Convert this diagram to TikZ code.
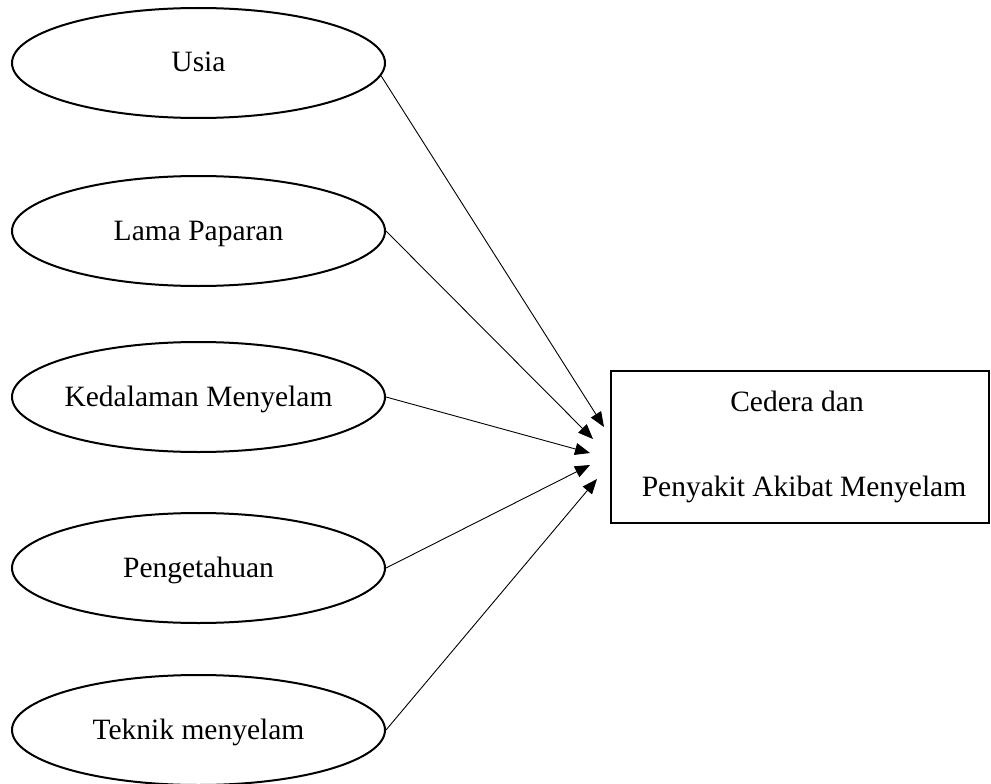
\documentclass[tikz,border=0pt]{standalone}
\usepackage{fontspec}
\setmainfont{Liberation Serif}
\usetikzlibrary{shapes.geometric,arrows.meta}
\begin{document}
\begin{tikzpicture}[x=1pt,y=-1pt,
  factor/.style={ellipse,draw,line width=2pt,minimum width=373pt,minimum height=110pt,inner xsep=-40pt,inner ysep=0pt,
    font=\fontsize{29.5}{34}\selectfont,text height=20pt,text depth=2pt},
  outbox/.style={rectangle,draw,line width=2.5pt,minimum width=378pt,minimum height=152pt,inner sep=0pt,
    align=center,font=\fontsize{29.5}{85}\selectfont},
  link/.style={line width=0.9pt,-{Triangle[length=15pt,width=12pt]}}]
\useasboundingbox (0,0) rectangle (991,784);
\node[factor] (usia) at (198.5,63) {Usia};
\node[factor] (lama) at (198.5,231) {Lama Paparan};
\node[factor] (dalam) at (198.5,397) {Kedalaman Menyelam};
\node[factor] (tahu) at (198.5,568) {Pengetahuan};
\node[factor] (teknik) at (198.5,730) {Teknik menyelam};
\node[outbox] (cedera) at (800,447) {\hspace*{-6pt}Cedera dan\\\hspace*{8pt}Penyakit Akibat Menyelam};
\coordinate (t1) at (604,427);
\coordinate (t2) at (593,439);
\coordinate (t3) at (590,453);
\coordinate (t4) at (590,465);
\coordinate (t5) at (597,479);
\draw[link] (usia.-4) -- (t1);
\draw[link] (lama.east) -- (t2);
\draw[link] (dalam.east) -- (t3);
\draw[link] (tahu.east) -- (t4);
\draw[link] (teknik.east) -- (t5);
\end{tikzpicture}
\end{document}
